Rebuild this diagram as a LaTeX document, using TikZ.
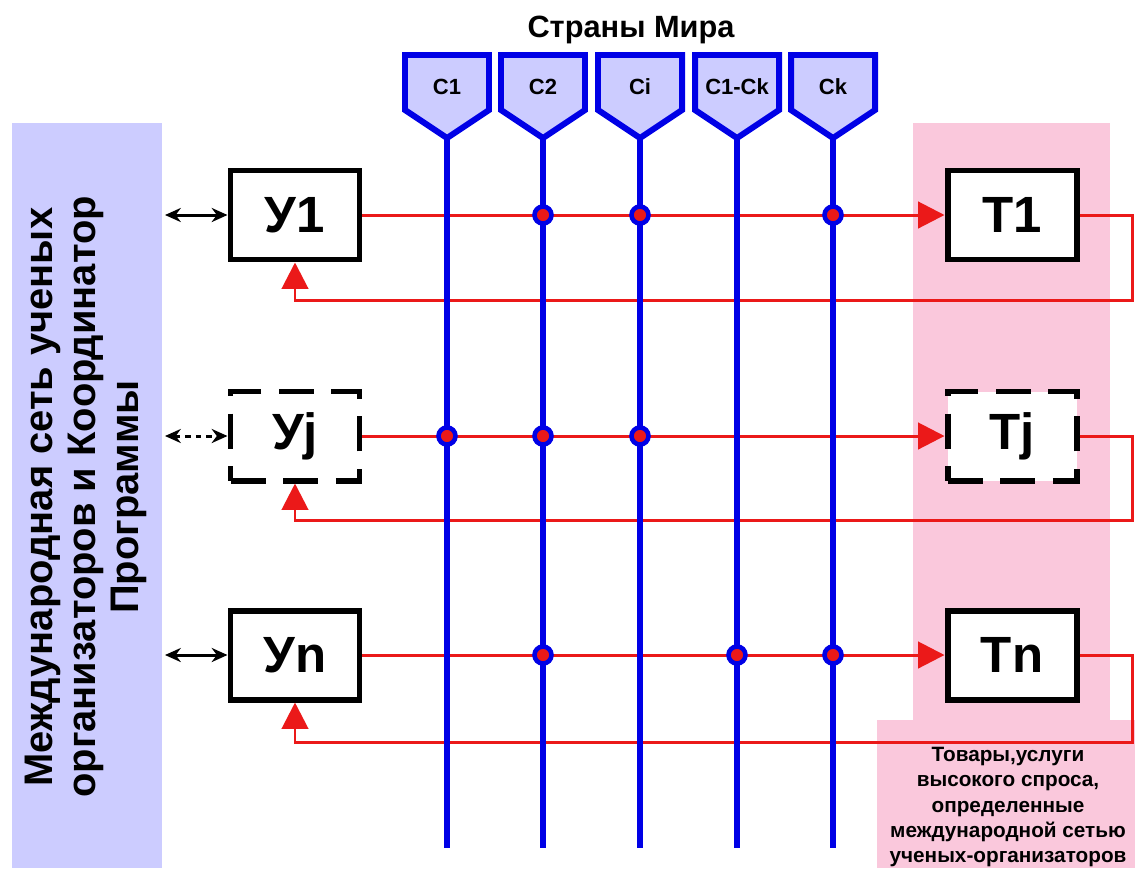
\documentclass[tikz,border=0pt]{standalone}
\usepackage{fontspec}
\setmainfont{Liberation Sans}
\usepackage{xcolor}
\usepackage{tikz}
\usetikzlibrary{arrows.meta, positioning, calc}
\definecolor{netblue}{RGB}{204,204,255}
\definecolor{goodspink}{RGB}{250,200,220}
\definecolor{lineblue}{RGB}{0,0,230}
\definecolor{linered}{RGB}{235,25,25}
\tikzstyle{box} = [draw=black, line width=3.4pt, fill=white, minimum width=2.58cm, minimum height=1.78cm, inner sep=0pt, font=\fontsize{29}{32}\selectfont\bfseries]
\tikzstyle{dbox} = [box, dash pattern=on 20pt off 10pt]
\tikzstyle{flow} = [draw=linered, line width=1.7pt, -{Triangle[length=15pt, width=15pt]}]

\begin{document}
\begin{tikzpicture}[
    x=0.2mm, y=-0.2mm,
    country/.style={draw=lineblue, line width=3.4pt, fill=netblue, line join=miter},
    label/.style={font=\fontsize{12.5}{14}\selectfont\bfseries},
    dot/.style={circle, draw=lineblue, fill=linered, line width=2.6pt, minimum size=0.34cm, inner sep=0pt},
    link/.style={black, line width=1.7pt, {Stealth[length=9pt, width=8pt]}-{Stealth[length=9pt, width=8pt]}}]
    \useasboundingbox (0,0) rectangle (1135,868);
    \clip (0,0) rectangle (1135,868);
    % side panels
    \fill[netblue] (12,123) rectangle (162,868);
    \fill[goodspink] (913,123) rectangle (1110,720);
    \fill[goodspink] (877,720) rectangle (1135,868);
    \node[rotate=90, align=center, font=\fontsize{22.7}{24.5}\selectfont\bfseries] (net) at (86,497)
        {Международная сеть ученых\\организаторов и Координатор\\Программы};
    \node[align=center, font=\fontsize{11.8}{14.3}\selectfont\bfseries] (goods) at (1008,807)
        {Товары,услуги\\высокого спроса,\\определенные\\международной сетью\\ученых-организаторов};
    \node[font=\fontsize{17.5}{20}\selectfont\bfseries] (world) at (631,30) {Страны Мира};
    % countries
    \foreach \x/\n/\t in {447/1/C1, 543/2/C2, 640/3/Ci, 737/4/C1-Ck, 833/5/Ck} {
        \draw[country] (\x-42,55) -- (\x+42,55) -- (\x+42,110) -- (\x,138) -- (\x-42,110) -- cycle;
        \node[label] (c\n) at (\x,87) {\t};
        \coordinate (top\n) at (\x,138);
        \coordinate (bot\n) at (\x,848);
    }
    % participants and goods
    \node[box]  (y1) at (295,215) {У1};
    \node[dbox] (yj) at (295,436) {Уj};
    \node[box]  (yn) at (295,655) {Уn};
    \node[box]  (t1) at (1012,215) {Т1};
    \node[dbox] (tj) at (1012,436) {Тj};
    \node[box]  (tn) at (1012,655) {Тn};
    \coordinate (edge) at (165,0);
    \draw[link] (y1.west -| edge) -- (y1.west);
    \draw[link, dashed] (yj.west -| edge) -- (yj.west);
    \draw[link] (yn.west -| edge) -- (yn.west);
    \foreach \r/\yy in {1/300, j/520, n/742} {
        \coordinate (back\r) at (1132,\yy);
        \draw[flow] (y\r.east) -- (t\r.west);
        \draw[flow] (t\r.east) -| (back\r) -| (y\r.south);
    }
    \foreach \n in {1,...,5}
        \draw[lineblue, line width=3.4pt] (top\n) -- (bot\n);
    \foreach \r/\c in {1/2, 1/3, 1/5, j/1, j/2, j/3, n/2, n/4, n/5}
        \node[dot] (d\r\c) at (c\c |- y\r) {};
\end{tikzpicture}
\end{document}
